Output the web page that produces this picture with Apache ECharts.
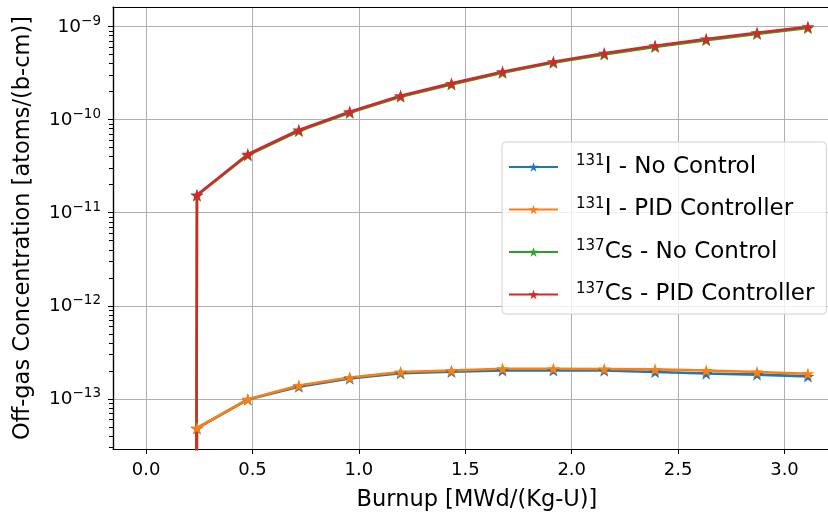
<!DOCTYPE html>
<html><head><meta charset="utf-8">
<script src="https://cdn.jsdelivr.net/npm/echarts@6/dist/echarts.min.js"></script>
<style>html,body{margin:0;padding:0;background:#fff}#c{width:828px;height:512px}</style>
</head><body><div id="c"></div>
<script>
// ---- data ----
const burnup = [0, 0.239, 0.478, 0.718, 0.957, 1.196, 1.435, 1.675, 1.914, 2.153, 2.392, 2.632, 2.871, 3.110];
const i131NoControl = [0, 4.8e-14, 9.8e-14, 1.35e-13, 1.65e-13, 1.88e-13, 1.95e-13, 2.01e-13, 2.02e-13, 2.01e-13, 1.94e-13, 1.87e-13, 1.82e-13, 1.74e-13];
const i131PID = [0, 4.85e-14, 9.9e-14, 1.39e-13, 1.69e-13, 1.94e-13, 2.01e-13, 2.10e-13, 2.10e-13, 2.09e-13, 2.07e-13, 2.01e-13, 1.94e-13, 1.86e-13];
const cs137NoControl = [0, 1.53e-11, 4.15e-11, 7.55e-11, 1.19e-10, 1.77e-10, 2.40e-10, 3.20e-10, 4.09e-10, 5.04e-10, 6.07e-10, 7.17e-10, 8.37e-10, 9.7e-10];
const cs137PID = [0, 1.55e-11, 4.25e-11, 7.75e-11, 1.22e-10, 1.81e-10, 2.46e-10, 3.28e-10, 4.21e-10, 5.18e-10, 6.25e-10, 7.38e-10, 8.61e-10, 1.0e-9];
const seriesNames = ['131I - No Control', '131I - PID Controller', '137Cs - No Control', '137Cs - PID Controller'];
const legendMass = ['131', '131', '137', '137'];
const legendText = ['I - No Control', 'I - PID Controller', 'Cs - No Control', 'Cs - PID Controller'];
const xTickValues = [0.0, 0.5, 1.0, 1.5, 2.0, 2.5, 3.0];
const yTickExponents = [-13, -12, -11, -10, -9];
const xLabel = 'Burnup [MWd/(Kg-U)]';
const yLabel = 'Off-gas Concentration [atoms/(b-cm)]';

// ---- build ----
const colors = ['#1f77b4', '#ff7f0e', '#2ca02c', '#d62728'];
const allSeries = [i131NoControl, i131PID, cs137NoControl, cs137PID];
const STAR = 'path://M50,0L61.23,34.55L97.55,34.55L68.17,55.9L79.39,90.45L50,69.1L20.61,90.45L31.83,55.9L2.45,34.55L38.77,34.55Z';
// non-positive values clipped to a tiny positive number (log axis)
const clipPos = v => (v > 0 ? v : 1e-300);

const yMin = Math.pow(10, -13.54), yMax = Math.pow(10, -8.788);
const minorVals = [];
for (let e = -14; e <= -9; e++) for (let m = 2; m <= 9; m++) {
  const v = m * Math.pow(10, e);
  if (v > yMin && v < yMax) minorVals.push(v);
}

const chart = echarts.init(document.getElementById('c'), null, {renderer: 'canvas'});
const font = 'DejaVu Sans';
chart.setOption({
  animation: false,
  backgroundColor: '#fff',
  textStyle: {fontFamily: font},
  grid: {left: 113, top: 7, right: -13, bottom: 63, containLabel: false, outerBoundsMode: 'none'},
  xAxis: [{
    type: 'value', min: -0.1555, max: 3.2655,
    name: xLabel, nameLocation: 'middle', nameGap: 40,
    nameTextStyle: {fontSize: 22.5, color: '#000', fontFamily: font},
    axisLine: {show: true, onZero: false, lineStyle: {color: '#000', width: 1.2}},
    axisTick: {show: true, inside: false, length: 5, lineStyle: {color: '#000'}, customValues: xTickValues},
    axisLabel: {fontSize: 18, color: '#000', margin: 12, fontFamily: font, customValues: xTickValues,
      formatter: v => (xTickValues.some(t => Math.abs(t - v) < 1e-9) ? v.toFixed(1) : '')},
    splitLine: {show: true, lineStyle: {color: '#b0b0b0', width: 1}}
  }, {
    type: 'value', position: 'top', min: -0.1555, max: 3.2655,
    axisLine: {show: true, onZero: false, lineStyle: {color: '#000', width: 1.2}},
    axisTick: {show: false}, axisLabel: {show: false}, splitLine: {show: false}
  }, {
    // helper axis whose zero sits on the left edge of the plot (anchors the minor-tick axis)
    type: 'value', position: 'bottom', min: 0, max: 1,
    axisLine: {show: false}, axisTick: {show: false}, axisLabel: {show: false}, splitLine: {show: false}
  }],
  yAxis: [{
    type: 'log', logBase: 10, min: yMin, max: yMax,
    name: yLabel, nameLocation: 'middle', nameGap: 78, nameRotate: 90,
    nameTextStyle: {fontSize: 22.5, color: '#000', fontFamily: font},
    axisLine: {show: true, onZero: false, lineStyle: {color: '#000', width: 1.2}},
    axisTick: {show: true, length: 5, lineStyle: {color: '#000'}},
    axisLabel: {
      color: '#000', margin: 12, fontFamily: font,
      showMinLabel: false, showMaxLabel: false,
      formatter: v => {
        const l = Math.log10(v), e = Math.round(l);
        if (Math.abs(l - e) > 1e-6 || !yTickExponents.includes(e)) return '';
        return '{b|10}{s|\u2212' + Math.abs(e) + '}';
      },
      rich: {b: {fontSize: 18.5, color: '#000', fontFamily: font},
             s: {fontSize: 13.5, color: '#000', fontFamily: font, padding: [0, 0, 11, 0]}}
    },
    splitLine: {show: true, lineStyle: {color: '#b0b0b0', width: 1}}
  }, {
    type: 'log', logBase: 10, min: yMin, max: yMax, position: 'left',
    axisLine: {show: true, onZero: true, onZeroAxisIndex: 2, lineStyle: {color: '#000', width: 1.2}},
    axisLabel: {show: false}, splitLine: {show: false},
    axisTick: {show: true, length: 4, lineStyle: {color: '#000', width: 1}, customValues: minorVals}
  }],
  legend: {
    orient: 'vertical', left: 502, top: 142,
    padding: [12, 12, 8, 6],
    itemWidth: 49, itemHeight: 12, itemGap: 18,
    backgroundColor: 'rgba(255,255,255,0.8)', borderColor: '#d0d0d0', borderWidth: 1, borderRadius: 4,
    data: seriesNames,
    formatter: name => {
      const i = seriesNames.indexOf(name);
      return '{s|' + legendMass[i] + '}{t|' + legendText[i] + '}';
    },
    textStyle: {
      color: '#000', fontSize: 23, fontFamily: font, padding: [0, 0, 0, 13],
      rich: {s: {fontSize: 15, color: '#000', fontFamily: font, padding: [0, 0, 11, 0]},
             t: {fontSize: 23, color: '#000', fontFamily: font}}
    }
  },
  series: allSeries.map((vals, k) => ({
    name: seriesNames[k], type: 'line', xAxisIndex: 0, yAxisIndex: 0,
    data: burnup.map((x, i) => [x, clipPos(vals[i])]),
    symbol: STAR, symbolSize: 13, symbolKeepAspect: true, showAllSymbol: true,
    clip: true,
    lineStyle: {color: colors[k], width: 2.6},
    itemStyle: {color: colors[k]},
    emphasis: {disabled: true}
  }))
});
</script></body></html>
